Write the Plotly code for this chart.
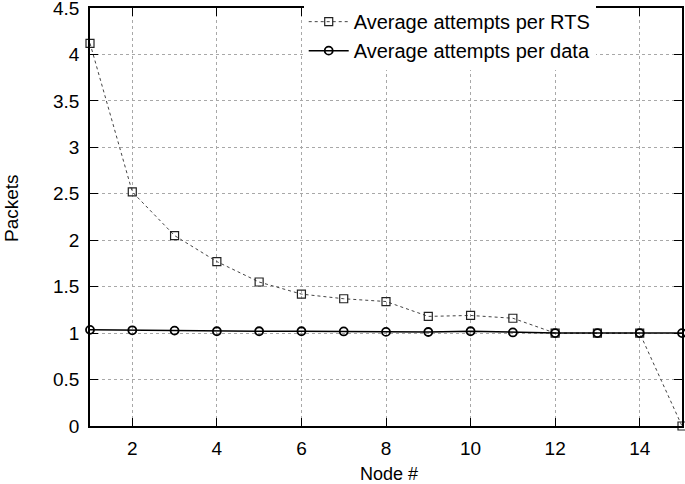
import plotly.graph_objects as go

nodes = list(range(1, 16))
rts_attempts = [4.12, 2.52, 2.05, 1.77, 1.55, 1.42, 1.37, 1.34, 1.18, 1.19, 1.16, 1.0, 1.0, 1.0, 0.0]
data_attempts = [1.035, 1.03, 1.027, 1.02, 1.02, 1.02, 1.018, 1.013, 1.012, 1.02, 1.007, 1.0, 1.0, 1.0, 1.0]
rts_name = "Average attempts per RTS"
data_name = "Average attempts per data"
x_title = "Node #"
y_title = "Packets"

FONT = "Liberation Sans, Arial, sans-serif"

fig = go.Figure()
fig.add_trace(go.Scatter(
    x=nodes, y=rts_attempts, name=rts_name, mode="lines+markers",
    line=dict(color="#444444", width=1, dash="dot"),
    marker=dict(symbol="square-open", size=8, color="#222222", line=dict(width=1.2)),
    cliponaxis=False,
))
fig.add_trace(go.Scatter(
    x=nodes, y=data_attempts, name=data_name, mode="lines+markers",
    line=dict(color="black", width=1.5),
    marker=dict(symbol="circle-open", size=8, color="black", line=dict(width=1.8)),
    cliponaxis=False,
))

axis_common = dict(
    showline=True, linecolor="black", linewidth=1.5, mirror="ticks",
    ticks="inside", ticklen=8, tickcolor="black", tickwidth=1,
    showgrid=True, gridcolor="#a8a8a8", gridwidth=1, griddash="dot",
    zeroline=False, ticklabeloverflow="allow",
    tickfont=dict(family=FONT, size=19, color="black"),
)

fig.update_xaxes(range=[1, 15], tick0=0, dtick=2, ticklabelstandoff=4, **axis_common)
fig.update_yaxes(range=[0, 4.5], tick0=0, dtick=0.5, ticklabelstandoff=5, **axis_common)

fig.add_annotation(text=x_title, xref="paper", yref="paper", x=0.5, y=-0.122,
                   xanchor="center", yanchor="middle", showarrow=False,
                   xshift=3, yshift=3, font=dict(family=FONT, size=18, color="black"))
fig.add_annotation(text=y_title, xref="paper", yref="paper", x=0, y=0.5,
                   xanchor="center", yanchor="middle", showarrow=False, textangle=-90,
                   xshift=-79, yshift=9, font=dict(family=FONT, size=19, color="black"))

fig.update_layout(
    width=685, height=484,
    margin=dict(l=90, r=3, t=8, b=58, autoexpand=False),
    paper_bgcolor="white", plot_bgcolor="white",
    showlegend=True,
    legend=dict(x=0.361, y=1.014, xanchor="left", yanchor="top",
                bgcolor="white", borderwidth=0,
                font=dict(family=FONT, size=20, color="black"),
                tracegroupgap=0, itemwidth=40),
)

fig.write_html("out.html", config={"displayModeBar": False},
               post_script="document.body.style.margin='0';")
